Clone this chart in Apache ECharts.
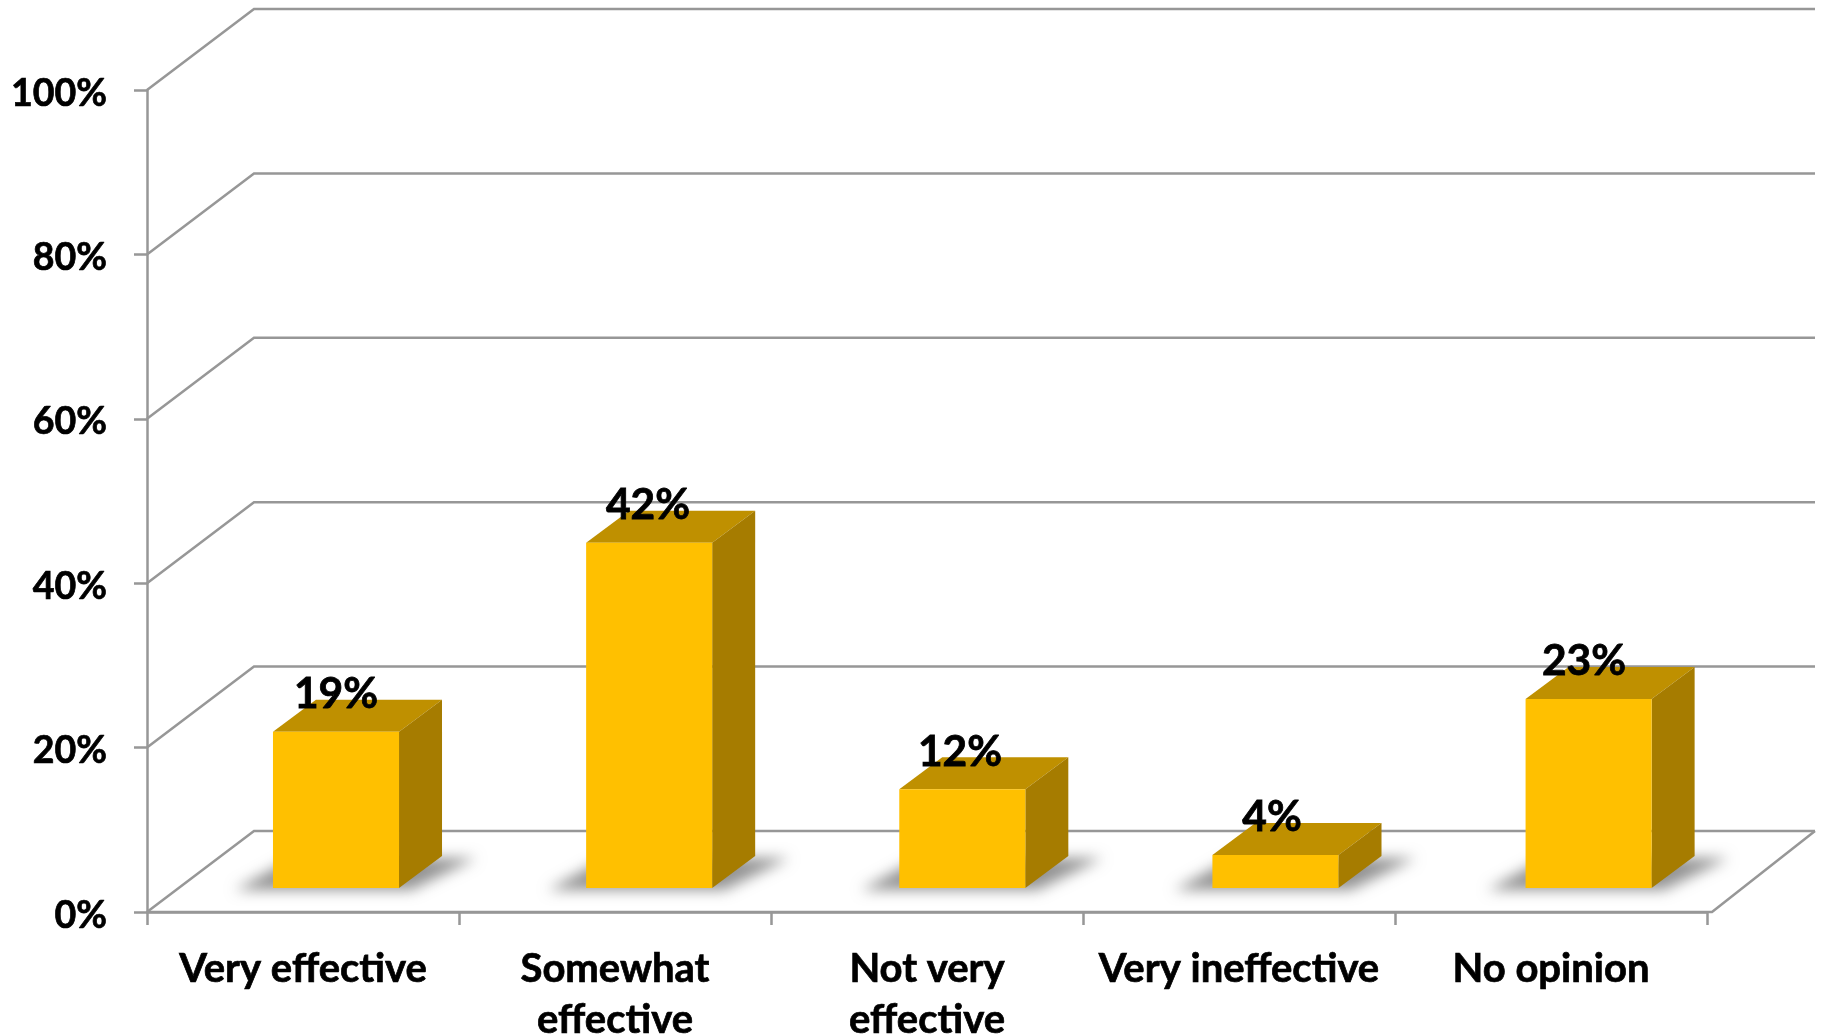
<!DOCTYPE html>
<html><head><meta charset="utf-8">
<style>html,body{margin:0;padding:0;background:#fff;overflow:hidden}#c{width:1822px;height:1036px}</style>
<script src="https://cdn.jsdelivr.net/npm/echarts@6/dist/echarts.min.js"></script>
</head><body><div id="c"></div>
<script>
const categories = ['Very effective', 'Somewhat effective', 'Not very effective', 'Very ineffective', 'No opinion'];
const wrappedCategories = ['Somewhat effective', 'Not very effective'];
const values = [19, 42, 12, 4, 23];
const yTicks = [0, 20, 40, 60, 80, 100];

const FONT = 'Lato';
const LINE = '#979797';
const LW = 2.5;
const wallDx = 107, wallDy = 81, floorOver = 5;
const barDx = 43, barDy = 32, barShiftX = 33, barDrift = 1.15, barShiftY = 24, barRatio = 0.404;
const OFF = 4000;

const chart = echarts.init(document.getElementById('c'), null, {renderer: 'canvas'});

function renderWall(params, api) {
  const cs = params.coordSys, v = api.value(1), y = api.coord([0, v])[1];
  const x0 = cs.x, xb = x0 + wallDx, xe = x0 + cs.width + floorOver + wallDx - 4;
  const style = {stroke: LINE, lineWidth: LW, fill: null};
  const kids = [{type: 'polyline', shape: {points: [[x0, y], [xb, y - wallDy], [xe, y - wallDy]]}, style}];
  if (v === 0) {
    kids.push({type: 'polyline', shape: {points: [[x0, y], [x0 + cs.width + floorOver, y], [xe, y - wallDy]]}, style});
  }
  return {type: 'group', children: kids};
}

function renderBar(params, api) {
  const i = api.value(0), v = api.value(1);
  const w = api.size([1, 0])[0] * barRatio;
  const top = api.coord([i, v]), base = api.coord([i, 0]);
  const l = top[0] + barShiftX + i * barDrift - w / 2, r = l + w, t = top[1] - barShiftY, b = base[1] - barShiftY;
  const fill = c => ({fill: c, stroke: null});
  const sh = [[l - 38, b + 2], [r + 12, b + 2], [r + barDx + 34, b - barDy + 2], [l + 20, b - barDy + 2]]
    .map(p => [p[0] - OFF, p[1]]);
  return {type: 'group', children: [
    {type: 'polygon', shape: {points: sh},
      style: {fill: '#000', shadowBlur: 14, shadowOffsetX: OFF, shadowColor: 'rgba(120,120,120,0.8)'}},
    {type: 'polygon', shape: {points: [[l, t], [l + barDx, t - barDy], [r + barDx, t - barDy], [r, t]]}, style: fill('#BF9000')},
    {type: 'polygon', shape: {points: [[r, t], [r + barDx, t - barDy], [r + barDx, b - barDy], [r, b]]}, style: fill('#A67C00')},
    {type: 'rect', shape: {x: l, y: t, width: w, height: b - t}, style: fill('#FFC000')},
    {type: 'text', style: {x: top[0] + barShiftX, y: t - 37.5, text: v + '%', align: 'center', verticalAlign: 'middle',
      font: 'bold 42.5px ' + FONT, fill: '#000', stroke: '#000', lineWidth: 0.8}}
  ]};
}

chart.setOption({
  animation: false,
  backgroundColor: '#fff',
  grid: {left: 147, right: 115, top: 90, bottom: 124, outerBoundsMode: 'none'},
  xAxis: {
    type: 'category', data: categories,
    axisLine: {lineStyle: {color: LINE, width: LW}},
    axisTick: {show: true, length: 13, lineStyle: {color: LINE, width: LW}},
    axisLabel: {interval: 0, margin: 32, color: '#000', fontFamily: FONT, fontWeight: 'bold', fontSize: 40,
      lineHeight: 51, verticalAlign: 'top', textBorderColor: '#000', textBorderWidth: 0.7,
      formatter: s => wrappedCategories.includes(s) ? s.replace(' effective', '\neffective') : s}
  },
  yAxis: {
    type: 'value', min: 0, max: 100, interval: 20,
    axisLine: {show: true, lineStyle: {color: LINE, width: LW}},
    axisTick: {show: true, length: 13, lineStyle: {color: LINE, width: LW}},
    splitLine: {show: false},
    axisLabel: {formatter: '{value}%', margin: 40, color: '#000', fontFamily: FONT, fontWeight: 'bold', fontSize: 37.5,
      textBorderColor: '#000', textBorderWidth: 0.7, verticalAlign: 'top', lineHeight: 7}
  },
  series: [
    {type: 'custom', silent: true, clip: false, z: 1, renderItem: renderWall,
      encode: {y: 1}, data: yTicks.map(t => [0, t])},
    {type: 'custom', silent: true, clip: false, z: 2, renderItem: renderBar,
      encode: {x: 0, y: 1}, data: values.map((v, i) => [i, v])}
  ]
});
</script></body></html>
